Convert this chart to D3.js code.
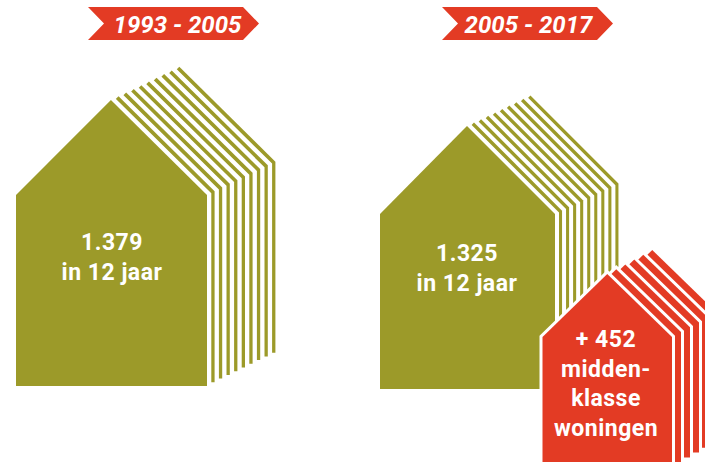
<!DOCTYPE html>
<html>
<head>
<meta charset="utf-8">
<script src="https://d3js.org/d3.v7.min.js"></script>
<style>
  html, body { margin: 0; padding: 0; background: #fff; }
  text { font-family: Roboto, sans-serif; font-weight: 700; fill: #fff; text-anchor: middle; }
</style>
</head>
<body>
<div id="chart"></div>
<script>
// values
const periods = ['1993 - 2005', '2005 - 2017'];
const periodLabels = [['1.379', 'in 12 jaar'], ['1.325', 'in 12 jaar']];
const stripeCounts = [9, 9];
const extraLabel = ['+ 452', 'midden-', 'klasse', 'woningen'];
const extraStripes = 5;

const olive = '#9c9a29';
const red = '#e33b24';

const width = 705, height = 462;

const svg = d3.select('#chart').append('svg')
  .attr('width', width)
  .attr('height', height)
  .style('display', 'block');

function drawHouse(g, cfg) {
  // house shape in unit space: x 0..1 left to right, y 0 apex .. 1 bottom
  const x = d3.scaleLinear().domain([0, 1]).range([cfg.left, cfg.right]);
  const y = d3.scaleLinear().domain([0, 1]).range([cfg.apex, cfg.bottom]);
  const eave = cfg.eave;
  const line = d3.line().x(d => x(d[0])).y(d => y(d[1]));
  const outline = [[0, 1], [0, eave], [cfg.apexX, 0], [1, eave], [1, 1]];

  // back to front, so each layer's white edge cuts the next stripe
  d3.range(cfg.stripes, -1, -1).forEach(i => {
    g.append('path')
      .attr('d', line(outline) + 'Z')
      .attr('transform', `translate(${i * cfg.stepX},${-i * cfg.stepY})`)
      .attr('fill', cfg.color)
      .attr('stroke', '#fff')
      .attr('stroke-width', cfg.gap * 2)
      .style('paint-order', 'stroke');
  });
}

function drawBanner(g, label, cfg) {
  const pts = [
    [cfg.x0, cfg.y0], [cfg.x1, cfg.y0], [cfg.x1 + cfg.tip, (cfg.y0 + cfg.y1) / 2],
    [cfg.x1, cfg.y1], [cfg.x0, cfg.y1], [cfg.x0 + cfg.notch, (cfg.y0 + cfg.y1) / 2]
  ];
  g.append('path').attr('d', d3.line()(pts) + 'Z').attr('fill', red);
  g.append('text')
    .attr('x', cfg.tx)
    .attr('y', cfg.ty)
    .style('font-size', '24px')
    .style('font-style', 'italic')
    .text(label);
}

function drawLabel(g, lines, cx, y0, lineH) {
  g.selectAll(null).data(lines).join('text')
    .attr('x', cx)
    .attr('y', (d, i) => y0 + i * lineH)
    .style('font-size', '23px')
    .style('letter-spacing', '0.5px')
    .text(d => d);
}

const g = svg.append('g');

drawBanner(g, periods[0], { x0: 88, x1: 243, y0: 7, y1: 40, tip: 16, notch: 16, tx: 177.5, ty: 32.5 });
drawBanner(g, periods[1], { x0: 442, x1: 597, y0: 7, y1: 40, tip: 16, notch: 16, tx: 528.5, ty: 32.5 });

drawHouse(g, { left: 16, right: 207, apex: 100, bottom: 386, eave: 0.332, apexX: 0.497,
  stripes: stripeCounts[0], stepX: 7.6, stepY: 3.7, gap: 4.3, color: olive });
drawLabel(g, periodLabels[0], 112, 250, 29.5);

drawHouse(g, { left: 380, right: 555, apex: 126, bottom: 389, eave: 0.335, apexX: 0.497,
  stripes: stripeCounts[1], stepX: 7.05, stepY: 3.4, gap: 4, color: olive });
drawLabel(g, periodLabels[1], 467, 261, 30);

drawHouse(g, { left: 542.5, right: 672, apex: 274, bottom: 467, eave: 0.326, apexX: 0.5,
  stripes: extraStripes, stepX: 9, stepY: 4.8, gap: 3, color: red });
drawLabel(g, extraLabel, 606, 347, 29.7);
</script>
</body>
</html>
